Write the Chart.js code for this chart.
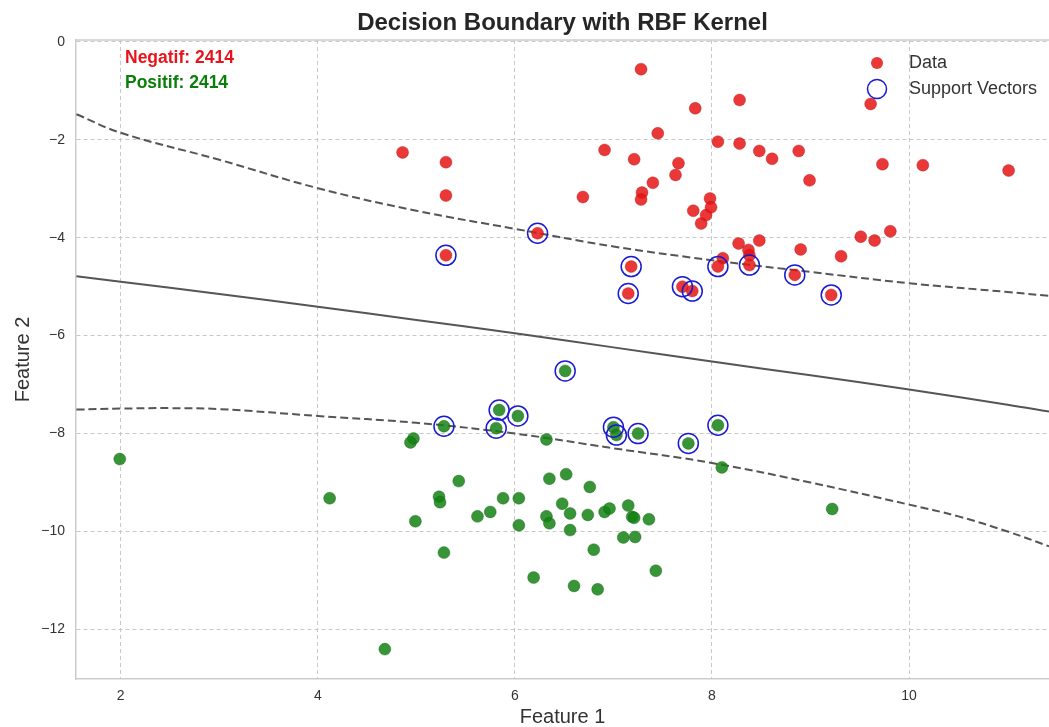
<!DOCTYPE html>
<html>
<head>
<meta charset="utf-8">
<title>Decision Boundary with RBF Kernel</title>
<script src="https://cdn.jsdelivr.net/npm/chart.js@4/dist/chart.umd.min.js"></script>
<style>
    html, body { margin: 0; padding: 0; background: #ffffff; }
    canvas { display: block; }
</style>
</head>
<body>
<canvas id="svmChart" width="1049" height="727"></canvas>
<script>
// kelas negatif (merah)
var negX = [7.28, 7.83, 8.28, 7.45, 6.91, 4.86, 5.30, 7.21, 7.66, 7.63,
            7.40, 7.29, 7.28, 6.69, 5.30, 7.81, 7.89, 7.94, 7.98, 7.99,
            8.06, 8.28, 8.48, 8.61, 8.88, 8.99, 9.61, 9.73, 10.14, 11.01,
            8.27, 8.48, 8.37, 8.38, 8.11, 8.90, 9.31, 9.51, 9.65, 9.81,
            6.23, 5.30, 7.18, 7.15, 7.70, 7.80, 8.06, 8.38, 8.84, 9.21];
var negY = [-0.56, -1.36, -1.19, -1.87, -2.21, -2.26, -2.46, -2.40, -2.48, -2.72,
            -2.88, -3.08, -3.22, -3.17, -3.14, -3.45, -3.71, -3.54, -3.20, -3.38,
            -2.04, -2.08, -2.23, -2.39, -2.23, -2.83, -1.27, -2.50, -2.52, -2.63,
            -4.12, -4.06, -4.25, -4.36, -4.42, -4.24, -4.38, -3.98, -4.06, -3.87,
            -3.91, -4.36, -4.59, -5.14, -5.00, -5.09, -4.59, -4.56, -4.76, -5.17];

// kelas positif (hijau)
var posX = [6.51, 5.84, 6.03, 5.28, 5.81, 7.00, 7.03, 7.25, 7.76, 8.06,
            4.97, 4.94, 6.32, 8.10, 1.99, 4.12, 4.68, 9.22,
            5.43, 6.35, 6.52, 6.76, 5.23, 5.24, 4.99, 5.62, 5.75, 5.88,
            6.04, 6.04, 6.32, 6.35, 6.48, 6.56, 6.56, 6.74, 6.91, 6.96,
            7.15, 7.19, 7.21, 7.36, 7.10, 7.22, 6.80, 7.43, 5.28, 6.19,
            6.60, 6.84];
var posY = [-6.72, -7.52, -7.64, -7.85, -7.89, -7.87, -8.03, -8.00, -8.20, -7.83,
            -8.10, -8.18, -8.12, -8.69, -8.52, -9.32, -12.40, -9.54,
            -8.97, -8.92, -8.83, -9.09, -9.29, -9.40, -9.79, -9.69, -9.60, -9.32,
            -9.32, -9.87, -9.69, -9.83, -9.43, -9.63, -9.97, -9.66, -9.60, -9.53,
            -9.47, -9.70, -9.72, -9.75, -10.12, -10.11, -10.37, -10.80, -10.43, -10.94,
            -11.11, -11.18];

// support vectors
var svX = [6.23, 5.30, 7.18, 7.15, 7.70, 7.80, 8.06, 8.38, 8.84, 9.21,
           6.51, 5.84, 6.03, 5.28, 5.81, 7.00, 7.03, 7.25, 7.76, 8.06];
var svY = [-3.91, -4.36, -4.59, -5.14, -5.00, -5.09, -4.59, -4.56, -4.76, -5.17,
           -6.72, -7.52, -7.64, -7.85, -7.89, -7.87, -8.03, -8.00, -8.20, -7.83];

// garis keputusan (level 0) dan margin (level -1 / +1)
var boundaryX = [1.55, 2, 3, 4, 5, 6, 7, 8, 9, 10, 11, 11.42];
var boundaryY = [-4.79, -4.90, -5.15, -5.41, -5.68, -5.95, -6.24, -6.53, -6.81, -7.10, -7.41, -7.55];
var upperX = [1.55, 2, 3, 4, 5, 6, 7, 8, 9, 10, 11, 11.42];
var upperY = [-1.48, -1.86, -2.41, -2.99, -3.45, -3.82, -4.18, -4.46, -4.70, -4.93, -5.11, -5.19];
var lowerX = [1.55, 2, 2.5, 3, 4, 5, 6, 7, 8, 9, 10, 10.5, 11, 11.42];
var lowerY = [-7.51, -7.49, -7.48, -7.50, -7.64, -7.78, -8.00, -8.30, -8.60, -9.00, -9.45, -9.69, -10.00, -10.30];

var xTicks = [2, 4, 6, 8, 10];
var yTicks = [0, -2, -4, -6, -8, -10, -12];

var countNeg = 2414;
var countPos = 2414;

function toPoints(xs, ys) {
    return xs.map(function (x, i) { return { x: x, y: ys[i] }; });
}

var FONT = '"Liberation Sans", Arial, sans-serif';

// judul, label sumbu, anotasi jumlah, dan legenda
var overlayText = {
    id: 'overlayText',
    afterDraw: function (chart) {
        var ctx = chart.ctx;
        var area = chart.chartArea;
        var cx = (area.left + area.right) / 2;
        ctx.save();

        ctx.strokeStyle = '#cccccc';
        ctx.lineWidth = 1.5;
        ctx.beginPath();
        ctx.moveTo(area.left, area.top);
        ctx.lineTo(area.right, area.top);
        ctx.stroke();

        ctx.textBaseline = 'middle';
        ctx.textAlign = 'center';
        ctx.fillStyle = '#262626';
        ctx.font = 'bold 24px ' + FONT;
        ctx.fillText('Decision Boundary with RBF Kernel', cx, 23);

        ctx.fillStyle = '#333333';
        ctx.font = '20px ' + FONT;
        ctx.fillText('Feature 1', cx, 717);
        ctx.save();
        ctx.translate(23, (area.top + area.bottom) / 2);
        ctx.rotate(-Math.PI / 2);
        ctx.fillText('Feature 2', 0, 0);
        ctx.restore();

        ctx.textAlign = 'left';
        ctx.font = 'bold 17.5px ' + FONT;
        ctx.fillStyle = '#e8141c';
        ctx.fillText('Negatif: ' + countNeg, area.left + 49, area.top + 18.5);
        ctx.fillStyle = '#0a800a';
        ctx.fillText('Positif: ' + countPos, area.left + 49, area.top + 43);

        // legenda
        ctx.fillStyle = 'rgba(230, 20, 20, 0.85)';
        ctx.beginPath();
        ctx.arc(877, 63, 6, 0, Math.PI * 2);
        ctx.fill();
        ctx.strokeStyle = '#1a1ad0';
        ctx.lineWidth = 1.5;
        ctx.beginPath();
        ctx.arc(877, 89, 9.5, 0, Math.PI * 2);
        ctx.stroke();
        ctx.fillStyle = '#333333';
        ctx.font = '18px ' + FONT;
        ctx.fillText('Data', 909, 63);
        ctx.fillText('Support Vectors', 909, 89);

        ctx.restore();
    }
};

var ctx = document.getElementById('svmChart').getContext('2d');

var svmChart = new Chart(ctx, {
    type: 'scatter',
    data: {
        datasets: [
            {
                label: 'Decision boundary',
                type: 'line',
                data: toPoints(boundaryX, boundaryY),
                borderColor: '#555555',
                borderWidth: 2,
                pointRadius: 0,
                tension: 0.4,
                fill: false,
                order: 5
            },
            {
                label: 'Margin atas',
                type: 'line',
                data: toPoints(upperX, upperY),
                borderColor: '#555555',
                borderWidth: 2,
                borderDash: [8, 4],
                pointRadius: 0,
                tension: 0.4,
                fill: false,
                order: 5
            },
            {
                label: 'Margin bawah',
                type: 'line',
                data: toPoints(lowerX, lowerY),
                borderColor: '#555555',
                borderWidth: 2,
                borderDash: [8, 4],
                pointRadius: 0,
                tension: 0.4,
                fill: false,
                order: 5
            },
            {
                label: 'Negatif',
                data: toPoints(negX, negY),
                backgroundColor: 'rgba(230, 20, 20, 0.85)',
                borderColor: 'rgba(170, 20, 20, 0.6)',
                borderWidth: 0.6,
                pointRadius: 6,
                order: 3
            },
            {
                label: 'Positif',
                data: toPoints(posX, posY),
                backgroundColor: 'rgba(20, 130, 20, 0.85)',
                borderColor: 'rgba(15, 90, 15, 0.6)',
                borderWidth: 0.6,
                pointRadius: 6,
                order: 3
            },
            {
                label: 'Support Vectors',
                data: toPoints(svX, svY),
                backgroundColor: 'rgba(0, 0, 0, 0)',
                borderColor: '#1a1ad0',
                borderWidth: 1.5,
                pointRadius: 10,
                order: 1
            }
        ]
    },
    options: {
        responsive: false,
        animation: false,
        layout: {
            autoPadding: false,
            padding: { top: 40, right: 0, left: 0, bottom: 0 }
        },
        plugins: {
            legend: { display: false },
            tooltip: { enabled: false },
            title: { display: false }
        },
        scales: {
            x: {
                type: 'linear',
                min: 1.546,
                max: 11.42,
                afterBuildTicks: function (scale) {
                    scale.ticks = xTicks.map(function (v) { return { value: v }; });
                },
                afterFit: function (scale) {
                    scale.height = 48;
                    scale.paddingLeft = 0;
                    scale.paddingRight = 0;
                },
                ticks: {
                    color: '#333333',
                    font: { family: FONT, size: 14 },
                    padding: 9,
                    maxRotation: 0,
                    callback: function (v) { return String(v); }
                },
                grid: { color: '#c8c8c8', lineWidth: 1, drawTicks: false },
                border: { display: true, color: '#cccccc', width: 1.5, dash: [4, 3] }
            },
            y: {
                type: 'linear',
                min: -13.01,
                max: 0.035,
                afterBuildTicks: function (scale) {
                    scale.ticks = yTicks.map(function (v) { return { value: v }; });
                },
                afterFit: function (scale) {
                    scale.width = 76;
                    scale.paddingTop = 0;
                    scale.paddingBottom = 0;
                },
                ticks: {
                    color: '#333333',
                    font: { family: FONT, size: 14 },
                    padding: 11,
                    callback: function (v) {
                        return v < 0 ? '\u2212' + Math.abs(v) : String(v);
                    }
                },
                grid: { color: '#c8c8c8', lineWidth: 1, drawTicks: false },
                border: { display: true, color: '#cccccc', width: 1.5, dash: [4, 3] }
            }
        }
    },
    plugins: [overlayText]
});
</script>
</body>
</html>
